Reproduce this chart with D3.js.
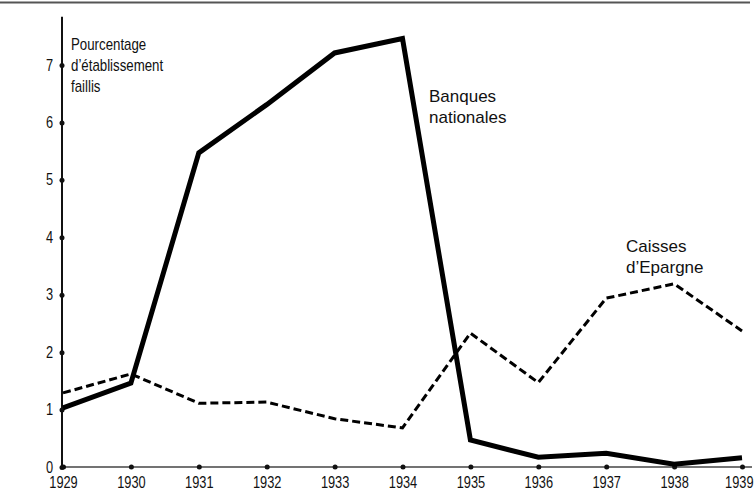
<!DOCTYPE html>
<html><head><meta charset="utf-8">
<script src="https://cdn.jsdelivr.net/npm/d3@7/dist/d3.min.js"></script>
<style>
html,body{margin:0;padding:0;background:#fff;}
svg{display:block;}
</style></head>
<body>
<svg id="c" width="756" height="501"></svg>
<script>
const years = [1929,1930,1931,1932,1933,1934,1935,1936,1937,1938,1939];
const banquesNationales = [1.03,1.46,5.47,6.31,7.21,7.46,0.47,0.17,0.24,0.05,0.16];
const caissesEpargne = [1.29,1.62,1.11,1.13,0.84,0.68,2.33,1.47,2.94,3.19,2.37];
const yTicks = [0,1,2,3,4,5,6,7];
const yTitle = ["Pourcentage","d\u2019établissement","faillis"];
const labelBanques = ["Banques","nationales"];
const labelCaisses = ["Caisses","d\u2019Epargne"];

const svg = d3.select("#c");
const regular = "'Liberation Sans',Arial,Helvetica,sans-serif";
const squeeze = 0.8;

const x = d3.scaleLinear().domain([1929,1939]).range([63,742]);
const y = d3.scaleLinear().domain([0,7]).range([467,65]);

// top rule
svg.append("line").attr("x1",0).attr("x2",750).attr("y1",2.5).attr("y2",2.5)
  .attr("stroke","#555").attr("stroke-width",2);

// x axis line
svg.append("line").attr("x1",x(1929)-1).attr("x2",752).attr("y1",y(0)).attr("y2",y(0))
  .attr("stroke","#444").attr("stroke-width",1.5);
// y axis line
svg.append("line").attr("x1",x(1929)-1).attr("x2",x(1929)-1).attr("y1",y(0)).attr("y2",y(7.84))
  .attr("stroke","#111").attr("stroke-width",2);

// x tick dots & labels
const xAxis = d3.axisBottom(x).tickValues(years).tickFormat(d3.format("d")).tickSize(0).tickPadding(10);
const gx = svg.append("g").attr("transform",`translate(0,${y(0)})`).call(xAxis);
gx.select(".domain").remove();
gx.selectAll("text").attr("font-family",regular).attr("font-size",16).attr("fill","#111")
  .attr("transform",`scale(${squeeze},1)`);
gx.selectAll(".tick").filter(d=>d===1939).select("text").attr("x",-4);
gx.selectAll(".tick").append("circle").attr("r",2.5).attr("fill","#111");

// y ticks
const yAxis = d3.axisLeft(y).tickValues(yTicks).tickFormat(d3.format("d")).tickSize(0).tickPadding(11);
const gy = svg.append("g").attr("transform",`translate(${x(1929)-1},0)`).call(yAxis);
gy.select(".domain").remove();
gy.selectAll("text").attr("font-family",regular).attr("font-size",16).attr("fill","#111")
  .attr("transform",`scale(${squeeze},1)`);
gy.selectAll(".tick").append("circle").attr("r",2.5).attr("fill","#111");

const line = d3.line().x((d,i)=>x(years[i])).y(d=>y(d));

svg.append("path").datum(caissesEpargne).attr("d",line)
  .attr("fill","none").attr("stroke","#000").attr("stroke-width",3)
  .attr("stroke-dasharray","8,4");
svg.append("path").datum(banquesNationales).attr("d",line)
  .attr("fill","none").attr("stroke","#000").attr("stroke-width",5)
  .attr("stroke-linejoin","miter");

// texts
const t1 = svg.append("text").attr("font-family",regular).attr("font-size",16).attr("fill","#111")
  .attr("transform",`translate(71,0) scale(0.83,1)`);
yTitle.forEach((s,i)=>t1.append("tspan").attr("x",0).attr("y",50+i*21).text(s));

const t2 = svg.append("text").attr("font-family",regular).attr("font-size",17).attr("fill","#111");
labelBanques.forEach((s,i)=>t2.append("tspan").attr("x",429).attr("y",102+i*21).text(s));

const t3 = svg.append("text").attr("font-family",regular).attr("font-size",17).attr("fill","#111");
labelCaisses.forEach((s,i)=>t3.append("tspan").attr("x",626).attr("y",252+i*21).text(s));
</script>
</body></html>
